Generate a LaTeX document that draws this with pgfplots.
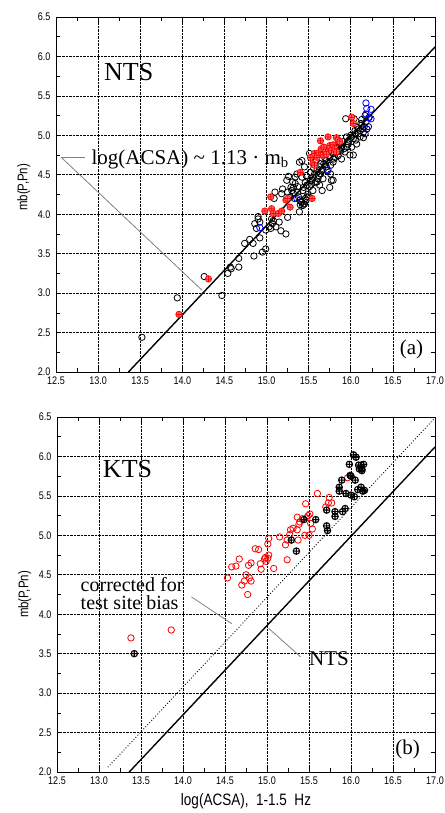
\documentclass[border=0pt]{standalone}
\usepackage{fontspec}
\setmainfont{Liberation Serif}
\newfontfamily\ticksf[FakeStretch=0.82]{Liberation Sans}
\usepackage{pgfplots}
\pgfplotsset{compat=1.18}

\tikzset{lead/.style={gray, line width=0.8pt}}
\pgfplotsset{
  panel/.style={
    scale only axis, width=379pt, height=355pt, anchor=south west,
    xmin=12.5, xmax=17, ymin=2, ymax=6.5,
    xtick={12.5,13,13.5,14,14.5,15,15.5,16,16.5,17},
    ytick={2,2.5,3,3.5,4,4.5,5,5.5,6,6.5},
    minor tick num=1,
    major tick length=5pt, minor tick length=4pt,
    grid=major, major grid style={black, densely dotted, line width=0.7pt},
    axis line style={line width=0.8pt},
    tick style={black, line width=0.6pt},
    ticklabel style={font=\ticksf\fontsize{11}{13}\selectfont},
    xticklabel style={yshift=-1.5pt},
    yticklabel style={xshift=-2pt},
    /pgf/number format/fixed,
    /pgf/number format/fixed zerofill,
    /pgf/number format/precision=1,
    /pgf/number format/assume math mode=true,
    ylabel={mb(P,Pn)},
    ylabel style={font=\ticksf\fontsize{14}{16}\selectfont, anchor=center},
  },
  blk/.style={only marks, mark=o, mark size=3.2pt, mark options={black, line width=0.8pt}},
  redp/.style={only marks, mark=oplus*, mark size=3.2pt, mark options={draw=red, fill=red!60, line width=0.7pt}},
  blu/.style={only marks, mark=o, mark size=3.2pt, mark options={blue, line width=0.8pt}},
  redo/.style={only marks, mark=o, mark size=3.2pt, mark options={red, line width=0.8pt}},
  blkp/.style={only marks, mark=oplus, mark size=3.2pt, mark options={black, line width=1.1pt}},
}

\begin{document}
\begin{tikzpicture}[x=1pt, y=1pt]
\useasboundingbox (0,0) rectangle (444,813);

% (a) NTS
\begin{axis}[panel, at={(56pt,441pt)},
  ylabel style={at={(axis description cs:-0.085,0.52)}}]
\addplot[blk] coordinates {
 (13.52,2.44) (13.94,2.94) (14.26,3.21) (14.47,2.97) (14.54,3.25) (14.57,3.33)
 (14.58,3.31) (14.67,3.44) (14.67,3.33) (14.74,3.63) (14.80,3.68) (14.84,3.63)
 (14.85,3.47) (14.86,3.88) (14.88,3.82) (14.90,3.97) (14.90,3.94) (14.92,3.90)
 (14.92,3.70) (14.95,3.52) (14.99,3.56) (15.05,3.82) (15.07,3.88) (15.08,3.92)
 (15.09,4.20) (15.10,4.28) (15.11,3.84) (15.15,3.90) (15.17,3.79) (15.19,4.32)
 (15.23,3.75) (15.24,4.43) (15.25,3.96) (15.26,4.48) (15.29,4.34) (15.32,4.26)
 (15.34,4.39) (15.37,4.28) (15.39,4.66) (15.39,4.03) (15.42,4.68) (15.42,4.47)
 (15.44,4.34) (15.44,4.13) (15.45,4.60) (15.46,4.40) (15.47,4.49) (15.48,4.22)
 (15.51,4.77) (15.52,4.53) (15.54,4.43) (15.55,4.30) (15.56,4.58) (15.59,4.68)
 (15.60,4.41) (15.62,4.49) (15.63,4.37) (15.64,4.64) (15.66,4.30) (15.67,4.56)
 (15.67,4.45) (15.69,4.72) (15.71,4.60) (15.73,4.79) (15.75,4.34) (15.76,4.51)
 (15.77,4.43) (15.79,4.66) (15.79,4.43) (15.81,4.72) (15.83,4.85) (15.87,4.81)
 (15.89,4.70) (15.91,4.92) (15.93,4.79) (15.94,5.21) (15.95,4.98) (15.97,4.89)
 (15.99,4.75) (16.01,4.85) (16.03,4.96) (16.03,4.75) (16.04,5.21) (16.05,5.02)
 (16.07,4.89) (16.09,5.08) (16.11,4.98) (16.13,5.13) (16.15,5.04) (16.17,5.25)
 (16.18,5.17) (16.21,5.11) (16.22,5.23) (16.15,4.97) (16.13,5.20)
 (15.40,4.18) (15.42,4.15) (15.45,4.13) (15.47,4.18) (15.50,4.22) (15.38,4.22)
 (15.43,4.30) (15.48,4.37) (15.52,4.43) (15.55,4.47) (15.57,4.51) (15.60,4.56)
 (15.63,4.60) (15.64,4.51) (15.68,4.64) (15.71,4.68) (15.75,4.72) (15.79,4.77)
 (15.84,4.79) (15.86,4.90) (15.89,4.85) (15.92,4.83) (15.95,4.85) (15.98,4.94)
 (16.01,4.98) (16.06,4.94) (16.09,5.02) (16.11,5.06) (16.16,5.11) (16.19,5.08)
 (16.17,5.02) (15.28,4.22) (15.25,4.28) (15.32,4.34) (15.34,4.47) (15.36,4.51)
 (15.31,4.41) (15.18,4.26) (15.06,3.94) (15.03,3.84) (14.99,3.80)
 (15.40,4.12) (15.41,4.16) (15.43,4.11) (15.46,4.20) (15.49,4.25) (15.51,4.35)
 (15.53,4.38) (15.58,4.40) (15.61,4.45) (15.65,4.55) (15.70,4.63) (15.72,4.55)
 (15.76,4.62) (15.80,4.70) (15.85,4.74) (15.88,4.80) (15.96,4.92) (16.00,5.00)
 (16.05,5.06) (16.08,5.10) (16.12,5.15) (16.14,5.08) (15.33,4.20) (15.37,4.35)
 (15.30,4.30)
};
\addplot[redp] coordinates {
 (13.96,2.73) (14.31,3.18) (14.98,4.04) (15.05,4.22) (15.06,4.07) (15.08,4.01)
 (15.14,4.01) (15.18,4.04) (15.23,4.18) (15.25,4.20) (15.28,4.09) (15.40,4.53)
 (15.54,4.20) (15.52,4.72) (15.55,4.64) (15.57,4.77) (15.60,4.72) (15.62,4.78)
 (15.64,4.93) (15.65,4.83) (15.67,4.75) (15.68,4.85) (15.70,4.79) (15.71,4.76)
 (15.73,4.98) (15.75,4.87) (15.77,4.81) (15.79,4.88) (15.81,4.83) (15.83,4.79)
 (15.83,4.97) (15.85,4.94) (15.87,4.92) (16.01,5.23) (16.03,5.15) (15.57,4.62)
};
\addplot[blu] coordinates {
 (14.92,3.83) (15.36,4.20) (15.73,4.56) (16.18,5.41) (16.19,5.34) (16.24,5.33)
 (16.18,5.27) (16.24,5.21) (16.19,5.08) (16.21,5.22)
};
\addplot[black, line width=1.4pt] coordinates {(13.36,2.0) (17.0,6.12)};
\draw[lead] (axis cs:12.563,4.72) -- (axis cs:12.85,4.72);
\draw[lead] (axis cs:12.563,4.72) -- (axis cs:14.235,3.035);
\node[anchor=base west, inner sep=0, font=\fontsize{26}{26}\selectfont] at (axis cs:13.07,5.70) {NTS};
\node[anchor=base west, inner sep=0, font=\fontsize{21}{21}\selectfont] at (axis cs:12.92,4.63) {log(ACSA) \textasciitilde{} 1.13 \textperiodcentered{} m\textsubscript{b}};
\node[anchor=base west, inner sep=0, font=\fontsize{21}{21}\selectfont] at (axis cs:16.58,2.22) {(a)};
\end{axis}

% (b) KTS
\begin{axis}[panel, at={(57pt,41pt)}, width=378pt,
  ylabel style={at={(axis description cs:-0.085,0.5)}},
  xlabel={log(ACSA),\ \ 1-1.5\ \ Hz},
  xlabel style={font=\ticksf\fontsize{16.5}{18}\selectfont, at={(axis description cs:0.5,-0.082)}, anchor=center}]
\addplot[redo] coordinates {
 (13.38,3.70) (13.86,3.80) (14.53,4.46) (14.58,4.60) (14.63,4.61) (14.67,4.70)
 (14.70,4.37) (14.73,4.42) (14.75,4.50) (14.77,4.25) (14.78,4.62) (14.79,4.46)
 (14.81,4.42) (14.81,4.65) (14.86,4.83) (14.90,4.82) (14.92,4.64) (14.93,4.57)
 (14.97,4.70) (14.98,4.72) (14.99,4.67) (15.01,4.71) (15.01,4.89) (15.02,4.96)
 (15.02,4.75) (15.08,4.58) (15.15,4.98) (15.22,4.88) (15.24,4.69) (15.24,4.94)
 (15.27,5.01) (15.28,5.07) (15.31,5.09) (15.36,5.07) (15.37,4.94) (15.36,5.23)
 (15.38,5.14) (15.39,5.17) (15.42,5.21) (15.45,5.00) (15.46,5.40) (15.47,5.22)
 (15.49,5.25) (15.50,5.00) (15.51,5.27) (15.52,5.15) (15.54,5.08) (15.60,5.53)
 (15.70,5.36) (15.73,5.41) (15.74,5.48) (15.77,5.41) (15.96,5.73)
};
\addplot[blkp] coordinates {
 (13.42,3.50) (15.29,4.94) (15.35,4.80) (15.44,5.20) (15.58,5.20) (15.71,5.32)
 (15.71,5.12) (15.72,5.06) (15.81,5.30) (15.81,5.24) (15.86,5.61) (15.86,5.56)
 (15.89,5.70) (15.90,5.30) (15.93,5.34) (15.94,5.53) (15.98,5.90) (16.00,5.75)
 (16.00,5.51) (16.03,6.02) (16.04,5.49) (16.05,5.70) (16.06,5.99) (16.08,5.58)
 (16.09,5.89) (16.10,5.84) (16.12,5.61) (16.12,5.89) (16.13,5.84) (16.13,5.82)
 (16.14,5.56) (16.15,5.90) (16.16,5.57) (15.99,5.76)
};
\addplot[black, line width=1.4pt] coordinates {(13.36,2.0) (17.0,6.12)};
\addplot[black, dotted, line width=0.9pt] coordinates {(13.105,2.06) (17.0,6.49)};
\draw[lead] (axis cs:14.10,4.22) -- (axis cs:14.58,3.88);
\draw[lead] (axis cs:15.40,3.46) -- (axis cs:15.02,3.82);
\node[anchor=base west, inner sep=0, font=\fontsize{26}{26}\selectfont] at (axis cs:13.045,5.73) {KTS};
\node[anchor=base west, inner sep=0, font=\fontsize{20}{20}\selectfont] at (axis cs:12.78,4.29) {corrected for};
\node[anchor=base west, inner sep=0, font=\fontsize{20}{20}\selectfont] at (axis cs:12.78,4.06) {test site bias};
\node[anchor=base west, inner sep=0, font=\fontsize{21}{21}\selectfont] at (axis cs:15.50,3.35) {NTS};
\node[anchor=base west, inner sep=0, font=\fontsize{21}{21}\selectfont] at (axis cs:16.525,2.22) {(b)};
\end{axis}
\end{tikzpicture}
\end{document}
